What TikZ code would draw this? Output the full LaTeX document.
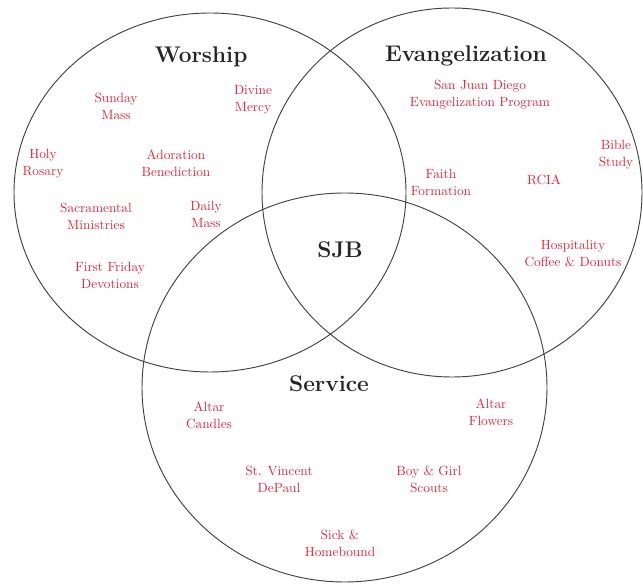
\documentclass[tikz,border=0pt]{standalone}
\definecolor{labelred}{RGB}{226,38,62}
\begin{document}
\begin{tikzpicture}[
  x=0.75pt, y=-0.75pt,
  ring/.style={draw=black!75, line width=0.7pt},
  area/.style={font=\fontsize{17}{20}\selectfont\bfseries, text=black!85},
  item/.style={align=center, font=\fontsize{10}{12.75}\selectfont, text=labelred},
]
\useasboundingbox (0,0) rectangle (643,584);
% the three circles
\draw[ring] (210,192.5) ellipse [x radius=196, y radius=179.5];
\draw[ring] (452,192.5) ellipse [x radius=190, y radius=184.5];
\draw[ring] (344.5,387.5) ellipse [x radius=202.5, y radius=194.5];
% headings
\node[area] (worship) at (201,57) {Worship};
\node[area] (evangel) at (466,56) {Evangelization};
\node[area] (service) at (329,384) {Service};
\node[area] (sjb) at (340,250) {SJB};
% worship
\node[item] (sundaymass) at (116,106) {Sunday\\Mass};
\node[item] (divinemercy) at (253,100) {Divine\\Mercy};
\node[item] (rosary) at (43,164) {Holy\\Rosary};
\node[item] (adoration) at (176,163) {Adoration\\Benediction};
\node[item] (sacramental) at (96,216) {Sacramental\\Ministries};
\node[item] (dailymass) at (206,214) {Daily\\Mass};
\node[item] (firstfriday) at (110,275) {First Friday\\Devotions};
% evangelization
\node[item] (sanjuan) at (480,95) {San Juan Diego\\Evangelization Program};
\node[item] (biblestudy) at (616,155) {Bible\\Study};
\node[item] (faith) at (441,182) {Faith\\Formation};
\node[item] (rcia) at (544,180) {RCIA};
\node[item] (hospitality) at (573,254) {Hospitality\\Coffee \& Donuts};
% service
\node[item] (candles) at (209,415) {Altar\\Candles};
\node[item] (flowers) at (491,412) {Altar\\Flowers};
\node[item] (vincent) at (279,479) {St. Vincent\\DePaul};
\node[item] (scouts) at (429,479) {Boy \& Girl\\Scouts};
\node[item] (sick) at (340,543) {Sick \&\\Homebound};
\end{tikzpicture}
\end{document}
